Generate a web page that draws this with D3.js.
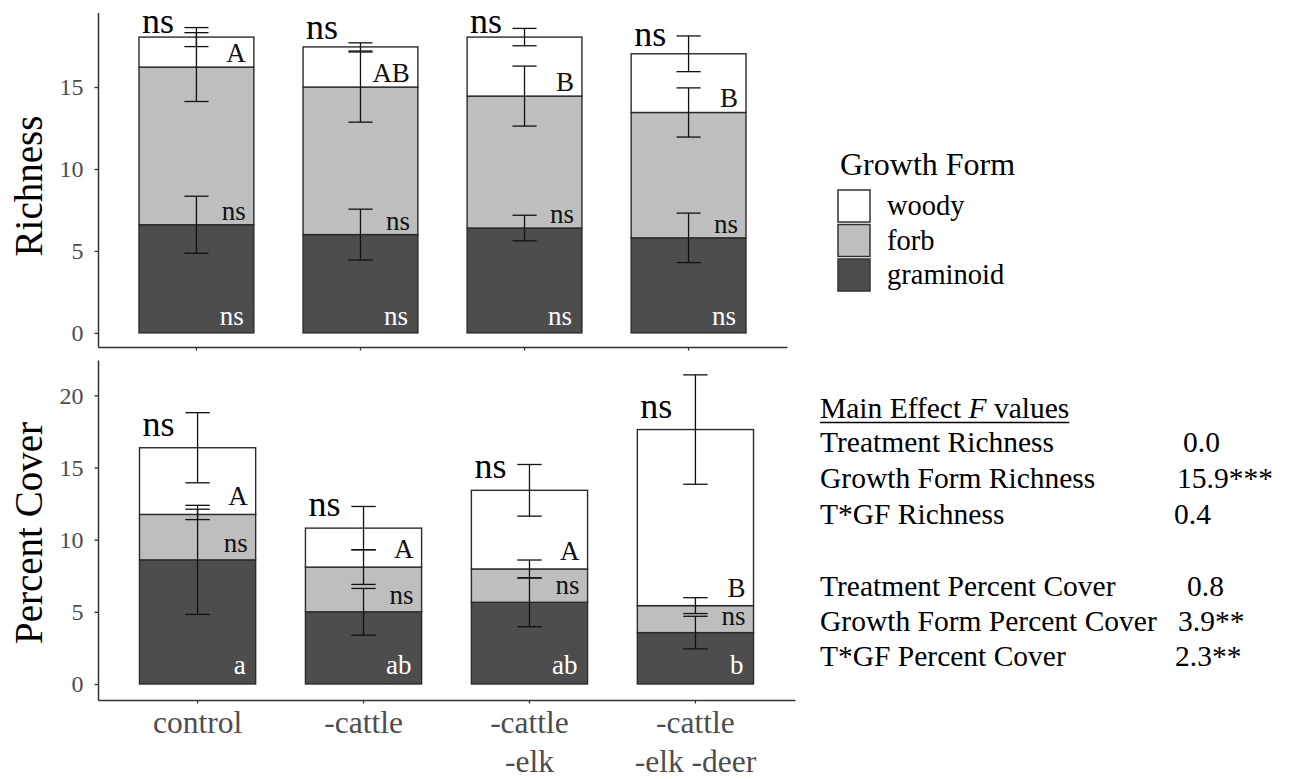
<!DOCTYPE html>
<html>
<head>
<meta charset="utf-8">
<script src="https://cdn.jsdelivr.net/npm/d3@7"></script>
<style>
  html, body { margin: 0; padding: 0; background: #ffffff; }
  svg { display: block; }
  svg text { font-family: "Liberation Serif", "Times New Roman", serif !important; }
</style>
</head>
<body>
<script>
// ---- data -------------------------------------------------------------
const treatments = ["control", "-cattle", "-cattle -elk", "-cattle -elk -deer"];
const treatmentLines = [["control"], ["-cattle"], ["-cattle", "-elk"], ["-cattle", "-elk -deer"]];
const growthForms = ["graminoid", "forb", "woody"];
const legendOrder = ["woody", "forb", "graminoid"];

// species richness (mean per growth form, stacked) and standard errors
const richGraminoid = [6.6, 6.0, 6.4, 5.8];
const richForb = [9.62, 9.0, 8.05, 7.65];
const richWoody = [1.83, 2.45, 3.6, 3.58];
const richGraminoidSE = [1.74, 1.55, 0.78, 1.51];
const richForbSE = [2.1, 2.14, 1.83, 1.5];
const richWoodySE = [0.58, 0.25, 0.53, 1.09];

// percent cover (mean per growth form, stacked) and standard errors
const covGraminoid = [8.6, 5.0, 5.66, 3.56];
const covForb = [3.15, 3.1, 2.31, 1.87];
const covWoody = [4.62, 2.7, 5.45, 12.2];
const covGraminoidSE = [3.78, 1.62, 1.69, 1.13];
const covForbSE = [0.36, 1.2, 0.62, 0.55];
const covWoodySE = [2.43, 1.5, 1.79, 3.79];

// significance letters
const richTotalSig = ["ns", "ns", "ns", "ns"];
const richWoodySig = ["A", "AB", "B", "B"];
const richForbSig = ["ns", "ns", "ns", "ns"];
const richGraminoidSig = ["ns", "ns", "ns", "ns"];
const covTotalSig = ["ns", "ns", "ns", "ns"];
const covWoodySig = ["A", "A", "A", "B"];
const covForbSig = ["ns", "ns", "ns", "ns"];
const covGraminoidSig = ["a", "ab", "ab", "b"];

const richTicks = [0, 5, 10, 15];
const covTicks = [0, 5, 10, 15, 20];

const statNames = ["Treatment Richness", "Growth Form Richness", "T*GF Richness", "",
                   "Treatment Percent Cover", "Growth Form Percent Cover", "T*GF Percent Cover"];
const statValues = ["0.0", "15.9***", "0.4", "", "0.8", "3.9**", "2.3**"];

// ---- drawing ----------------------------------------------------------
const W = 1295, H = 779;
const FONT = "'Liberation Serif', 'Times New Roman', serif";
const fills = { graminoid: "#4d4d4d", forb: "#bebebe", woody: "#ffffff" };
const outline = "#2b2b2b";

const svg = d3.select("body").append("svg")
  .attr("width", W).attr("height", H)
  .style("font-family", FONT);

function panel(opt) {
  const g = svg.append("g");
  const x = d3.scaleBand().domain(treatments)
    .range(opt.xRange).paddingInner(0.3).paddingOuter(0.25);
  const y = d3.scaleLinear().domain(opt.yDomain).range(opt.yRange);

  const rows = treatments.map((t, i) => ({
    treatment: t,
    graminoid: opt.values.graminoid[i],
    forb: opt.values.forb[i],
    woody: opt.values.woody[i]
  }));
  const layers = d3.stack().keys(growthForms)(rows);

  // stacked bars
  g.selectAll("g.layer").data(layers).join("g")
    .attr("class", "layer")
    .attr("fill", d => fills[d.key])
    .selectAll("rect").data(d => d).join("rect")
    .attr("x", d => x(d.data.treatment))
    .attr("width", x.bandwidth())
    .attr("y", d => y(d[1]))
    .attr("height", d => y(d[0]) - y(d[1]))
    .attr("stroke", outline).attr("stroke-width", 1.4);

  // error bars at the top of each stacked segment
  const capHalf = x.bandwidth() * 0.105;
  const errs = [];
  layers.forEach(layer => layer.forEach((d, i) => {
    errs.push({ cx: x(d.data.treatment) + x.bandwidth() / 2, mean: d[1], se: opt.se[layer.key][i] });
  }));
  const eg = g.append("g").attr("stroke", "#111").attr("stroke-width", 1.3).attr("fill", "none");
  errs.forEach(e => {
    eg.append("line").attr("x1", e.cx).attr("x2", e.cx).attr("y1", y(e.mean - e.se)).attr("y2", y(e.mean + e.se));
    eg.append("line").attr("x1", e.cx - capHalf).attr("x2", e.cx + capHalf).attr("y1", y(e.mean + e.se)).attr("y2", y(e.mean + e.se));
    eg.append("line").attr("x1", e.cx - capHalf).attr("x2", e.cx + capHalf).attr("y1", y(e.mean - e.se)).attr("y2", y(e.mean - e.se));
  });

  // letters inside the segments, right-aligned near the bar edge
  const lx = t => x(t) + x.bandwidth() - 8;
  const lab = g.append("g").attr("font-size", 27).attr("text-anchor", "end");
  layers.forEach(layer => layer.forEach((d, i) => {
    const key = layer.key;
    const base = key === "graminoid" ? y(0) - opt.off.graminoid : y(d[0]) - opt.off[key];
    lab.append("text")
      .attr("x", lx(d.data.treatment) - (key === "graminoid" ? 2 : 0))
      .attr("y", base)
      .attr("fill", key === "graminoid" ? "#ffffff" : "#111")
      .text(opt.sig[key][i]);
  }));

  // overall significance above each bar
  const top = layers[layers.length - 1];
  g.append("g").attr("font-size", 36).attr("fill", "#000")
    .selectAll("text").data(top).join("text")
    .attr("x", d => x(d.data.treatment) + 3)
    .attr("y", d => Math.max(y(d[1]) - opt.off.total, 32.5))
    .text((d, i) => opt.sig.total[i]);

  // axes
  const ya = g.append("g").attr("transform", `translate(${opt.xRange[0]},0)`)
    .call(d3.axisLeft(y).tickValues(opt.ticks).tickSize(3.5).tickSizeOuter(0).tickPadding(11));
  ya.attr("font-family", null).attr("font-size", null);
  ya.selectAll("text").attr("font-size", 24).attr("fill", "#4d4d4d");
  ya.selectAll("line").attr("stroke", "#333").attr("stroke-width", 1.3);
  ya.select(".domain").attr("stroke", "#333").attr("stroke-width", 1.5);

  const xa = g.append("g").attr("transform", `translate(0,${opt.yRange[0]})`)
    .call(d3.axisBottom(x).tickSize(3.5).tickSizeOuter(0).tickFormat(() => ""));
  xa.attr("font-family", null).attr("font-size", null);
  xa.selectAll("line").attr("stroke", "#333").attr("stroke-width", 1.3);
  xa.select(".domain").attr("stroke", "#333").attr("stroke-width", 1.5);

  if (opt.xLabels) {
    xa.selectAll(".tick text").each(function (t) {
      const el = d3.select(this).attr("font-size", 31.5).attr("fill", "#4d4d4d")
        .attr("y", 0).attr("dy", null);
      treatmentLines[treatments.indexOf(t)].forEach((line, k) => {
        el.append("tspan").attr("x", 0).attr("y", 33 + k * 39).text(line);
      });
    });
  }

  // axis title
  g.append("text")
    .attr("transform", `translate(42,${opt.titleY}) rotate(-90)`)
    .attr("text-anchor", "middle").attr("font-size", 39).attr("fill", "#000")
    .text(opt.title);
}

panel({
  xRange: [98, 787], yRange: [347, 12.5], yDomain: [-0.86, 19.55],
  values: { graminoid: richGraminoid, forb: richForb, woody: richWoody },
  se: { graminoid: richGraminoidSE, forb: richForbSE, woody: richWoodySE },
  sig: { graminoid: richGraminoidSig, forb: richForbSig, woody: richWoodySig, total: richTotalSig },
  off: { graminoid: 8, forb: 5, woody: 5, total: 8 },
  ticks: richTicks, title: "Richness", titleY: 186, xLabels: false
});

panel({
  xRange: [98, 795], yRange: [700, 360], yDomain: [-1.11, 22.45],
  values: { graminoid: covGraminoid, forb: covForb, woody: covWoody },
  se: { graminoid: covGraminoidSE, forb: covForbSE, woody: covWoodySE },
  sig: { graminoid: covGraminoidSig, forb: covForbSig, woody: covWoodySig, total: covTotalSig },
  off: { graminoid: 10, forb: 8, woody: 9, total: 12 },
  ticks: covTicks, title: "Percent Cover", titleY: 533, xLabels: true
});

// legend
const leg = svg.append("g");
leg.append("text").attr("x", 840).attr("y", 175).attr("font-size", 32).attr("fill", "#000").text("Growth Form");
legendOrder.forEach((k, i) => {
  const ky = 190 + i * 34.5;
  leg.append("rect").attr("x", 838).attr("y", ky).attr("width", 32).attr("height", 32)
    .attr("fill", fills[k]).attr("stroke", "#333").attr("stroke-width", 1.5);
  leg.append("text").attr("x", 887).attr("y", ky + 16).attr("dy", "0.32em")
    .attr("font-size", 28.5).attr("fill", "#000").text(k);
});

// ANOVA summary
const st = svg.append("g").attr("font-size", 29.5).attr("fill", "#000");
const title = st.append("text").attr("x", 820).attr("y", 418);
title.append("tspan").text("Main Effect ");
title.append("tspan").attr("font-style", "italic").text("F");
title.append("tspan").text(" values");
const tw = title.node().getComputedTextLength();
st.append("line").attr("x1", 820).attr("x2", 820 + tw).attr("y1", 422.5).attr("y2", 422.5)
  .attr("stroke", "#000").attr("stroke-width", 1.3);
const rowY = [452, 488, 524, 560, 596, 631, 666];
const valX = [1183, 1177, 1174, 0, 1187, 1178, 1175];
statNames.forEach((n, i) => {
  if (!n) return;
  st.append("text").attr("x", 820).attr("y", rowY[i]).text(n);
  st.append("text").attr("x", valX[i]).attr("y", rowY[i]).text(statValues[i]);
});
</script>
</body>
</html>
